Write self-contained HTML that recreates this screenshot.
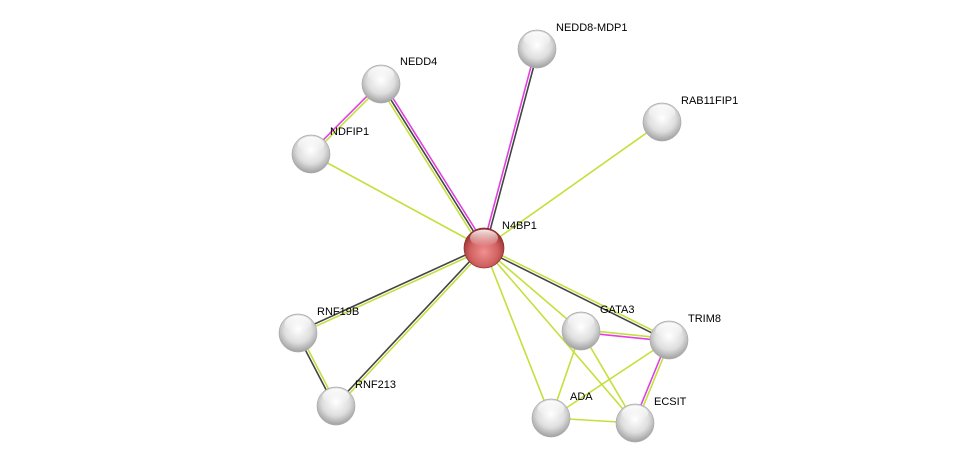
<!DOCTYPE html>
<html><head><meta charset="utf-8"><style>
html,body{margin:0;padding:0;background:#fff;width:976px;height:469px;overflow:hidden}
text{font-family:"Liberation Sans",sans-serif;font-size:11px;fill:#000}
</style></head><body>
<svg id="s" width="976" height="469" xmlns="http://www.w3.org/2000/svg">
<defs>
<radialGradient id="g" cx="50%" cy="40%" r="60%">
<stop offset="0" stop-color="#ffffff"/><stop offset="0.6" stop-color="#dedede"/><stop offset="1" stop-color="#a0a0a0"/>
</radialGradient>
<radialGradient id="r" cx="50%" cy="60%" r="60%">
<stop offset="0" stop-color="#f09090"/><stop offset="0.6" stop-color="#d06060"/><stop offset="1" stop-color="#902828"/>
</radialGradient>
<linearGradient id="h" x1="0" y1="0" x2="0" y2="1">
<stop offset="0" stop-color="#fff" stop-opacity="0.9"/><stop offset="1" stop-color="#fff" stop-opacity="0"/>
</linearGradient>
</defs>
<g id="e"></g><g id="n"></g>
</svg>
<script>
var N={N4BP1:[484,248],NEDD4:[381,84],NDFIP1:[311,154],NEDD8:[537,49],RAB:[662,122],RNF19B:[298,333],RNF213:[336,406],GATA3:[581,331],TRIM8:[669,340],ADA:[551,418],ECSIT:[635,423]};
var G="#c4e03c",K="#444",M="#e040e0";
var E=[["N4BP1","NEDD4",[G,K,M]],["N4BP1","NEDD8",[M,K]],["N4BP1","NDFIP1",[G]],["N4BP1","RAB",[G]],["NEDD4","NDFIP1",[G,M]],
["N4BP1","RNF19B",[G,K]],["N4BP1","RNF213",[G,K]],["RNF19B","RNF213",[G,K]],["N4BP1","TRIM8",[G,K]],["N4BP1","GATA3",[G]],
["N4BP1","ADA",[G]],["N4BP1","ECSIT",[G]],["GATA3","TRIM8",[G,M]],["GATA3","ADA",[G]],["GATA3","ECSIT",[G]],["TRIM8","ADA",[G]],
["TRIM8","ECSIT",[G,M]],["ADA","ECSIT",[G]]];
var s="";
E.forEach(function(e){var a=N[e[0]],b=N[e[1]],dx=b[0]-a[0],dy=b[1]-a[1],L=Math.hypot(dx,dy),px=-dy/L,py=dx/L,n=e[2].length;
e[2].forEach(function(c,i){var o=(i-(n-1)/2)*2.6;s+='<line x1="'+(a[0]+px*o)+'" y1="'+(a[1]+py*o)+'" x2="'+(b[0]+px*o)+'" y2="'+(b[1]+py*o)+'" stroke="'+c+'" stroke-width="1.6"/>';});});
document.getElementById("e").innerHTML=s;
var Lb={N4BP1:["N4BP1",18,-23],NEDD4:["NEDD4",19,-23],NDFIP1:["NDFIP1",19,-23],NEDD8:["NEDD8-MDP1",19,-22],RAB:["RAB11FIP1",19,-22],RNF19B:["RNF19B",19,-22],RNF213:["RNF213",19,-22],GATA3:["GATA3",19,-22],TRIM8:["TRIM8",19,-22],ADA:["ADA",19,-22],ECSIT:["ECSIT",19,-22]};
var t="";
for(var k in N){var p=N[k],R=k=="N4BP1"?20:19;
t+='<circle cx="'+p[0]+'" cy="'+p[1]+'" r="'+R+'" fill="url(#'+(k=="N4BP1"?"r":"g")+')" stroke="'+(k=="N4BP1"?"#8a3030":"#aaa")+'" stroke-width="0.7"/>';
t+='<ellipse cx="'+p[0]+'" cy="'+(p[1]-R*0.5)+'" rx="'+R*0.7+'" ry="'+R*0.42+'" fill="url(#h)"/>';
var l=Lb[k];t+='<text x="'+(p[0]+l[1])+'" y="'+(p[1]+l[2]+4)+'">'+l[0]+'</text>';}
document.getElementById("n").innerHTML=t;
</script>
</body></html>
